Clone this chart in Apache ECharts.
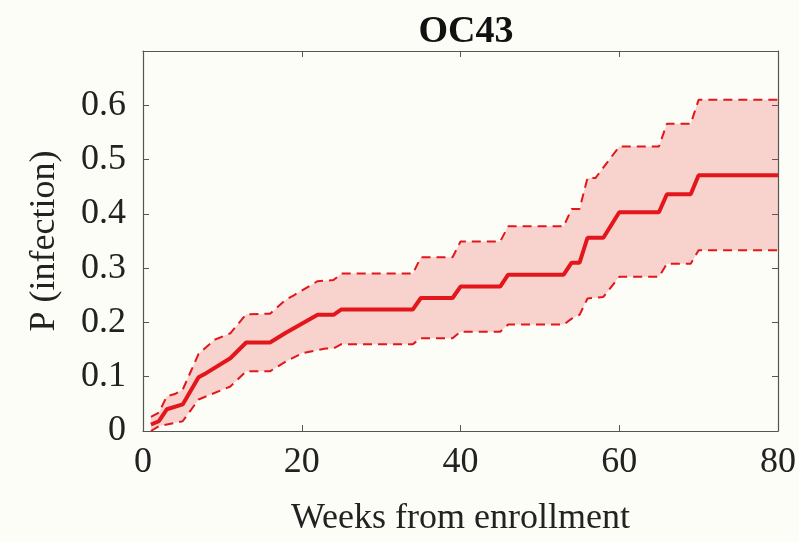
<!DOCTYPE html>
<html>
<head>
<meta charset="utf-8">
<script src="https://cdn.jsdelivr.net/npm/echarts@6/dist/echarts.min.js"></script>
<style>
  html, body { margin: 0; padding: 0; background: #fcfdf7; }
  #chart { width: 799px; height: 542px; }
</style>
</head>
<body>
<div id="chart"></div>
<script>
// [week, probability] points
const meanCurve = [[1,0.012],[2,0.018],[3,0.04],[5,0.049],[7,0.099],[8,0.107],[11,0.134],[13,0.163],[16,0.163],[18,0.181],[22,0.214],[24,0.214],[25,0.224],[34,0.224],[35,0.245],[39,0.245],[40,0.266],[45,0.266],[46,0.288],[53,0.288],[54,0.31],[55,0.31],[56,0.356],[58,0.356],[60,0.403],[65,0.403],[66,0.436],[69,0.436],[70,0.471],[80,0.471]];
const upperCurve = [[1,0.026],[2,0.034],[3,0.064],[4,0.068],[5,0.076],[7,0.142],[9,0.168],[11,0.18],[13,0.215],[16,0.216],[18,0.242],[19,0.25],[22,0.276],[24,0.278],[25,0.29],[34,0.29],[35,0.32],[39,0.32],[40,0.349],[45,0.349],[46,0.377],[53,0.377],[54,0.409],[55,0.409],[56,0.466],[57,0.466],[60,0.524],[65,0.524],[66,0.566],[69,0.566],[70,0.61],[80,0.61]];
const lowerCurve = [[1,0.0],[2,0.009],[5,0.018],[7,0.058],[11,0.082],[13,0.11],[16,0.11],[18,0.128],[20,0.143],[23,0.152],[24,0.152],[25,0.16],[34,0.16],[35,0.171],[39,0.171],[40,0.183],[45,0.183],[46,0.196],[53,0.196],[54,0.207],[55,0.214],[56,0.244],[58,0.247],[60,0.284],[65,0.284],[66,0.308],[69,0.308],[70,0.333],[80,0.333]];

const xTicks = [0, 20, 40, 60, 80];
const yTicks = [0, 0.1, 0.2, 0.3, 0.4, 0.5, 0.6];

const serif = "Liberation Serif";
const frameColor = "#555";
const red = "#e3161c";

let myChart = echarts.init(document.getElementById('chart'));

// 置信区间的填充
function renderBand(params, api) {
  const pts = [];
  upperCurve.forEach(p => pts.push(api.coord(p)));
  for (let i = lowerCurve.length - 1; i >= 0; i--) pts.push(api.coord(lowerCurve[i]));
  return {
    type: 'polygon',
    shape: { points: pts },
    style: { fill: 'rgba(235,60,60,0.22)' },
    silent: true
  };
}

const tickStyle = { show: true, inside: true, length: 6, lineStyle: { color: frameColor, width: 1 } };
const frameLine = { show: true, onZero: false, lineStyle: { color: frameColor, width: 1.2 } };

myChart.setOption({
  backgroundColor: '#fcfdf7',
  animation: false,
  title: {
    text: 'OC43',
    left: 461,
    top: 8,
    textAlign: 'center',
    textStyle: { fontFamily: serif, fontSize: 38, fontWeight: 'bold', color: '#111' }
  },
  grid: { left: 143, right: 20, top: 51, bottom: 109 },
  xAxis: [
    {
      type: 'value',
      min: 0,
      max: 80,
      interval: 20,
      name: 'Weeks from enrollment',
      nameLocation: 'middle',
      nameGap: 70,
      nameTextStyle: { fontFamily: serif, fontSize: 36, color: '#222' },
      axisLine: frameLine,
      axisTick: tickStyle,
      axisLabel: {
        fontFamily: serif, fontSize: 36, color: '#222', margin: 14,
        formatter: v => xTicks.indexOf(v) >= 0 ? String(v) : ''
      },
      splitLine: { show: false }
    },
    {
      type: 'value',
      position: 'top',
      min: 0,
      max: 80,
      interval: 20,
      axisLine: frameLine,
      axisTick: tickStyle,
      axisLabel: { show: false },
      splitLine: { show: false }
    }
  ],
  yAxis: [
    {
      type: 'value',
      min: 0,
      max: 0.7,
      interval: 0.1,
      name: 'P (infection)',
      nameLocation: 'middle',
      nameGap: 80,
      nameTextStyle: { fontFamily: serif, fontSize: 36, color: '#222' },
      axisLine: frameLine,
      axisTick: tickStyle,
      axisLabel: {
        fontFamily: serif, fontSize: 36, color: '#222', margin: 17,
        showMaxLabel: false,
        formatter: v => {
          const hit = yTicks.find(t => Math.abs(t - v) < 1e-6);
          if (hit === undefined) return '';
          return hit === 0 ? '0' : hit.toFixed(1);
        }
      },
      splitLine: { show: false }
    },
    {
      type: 'value',
      position: 'right',
      min: 0,
      max: 0.7,
      interval: 0.1,
      axisLine: frameLine,
      axisTick: tickStyle,
      axisLabel: { show: false },
      splitLine: { show: false }
    }
  ],
  series: [
    {
      name: 'band',
      type: 'custom',
      xAxisIndex: 0,
      yAxisIndex: 0,
      renderItem: renderBand,
      data: [[0, 0]],
      z: 1
    },
    {
      name: 'upper',
      type: 'line',
      data: upperCurve,
      showSymbol: false,
      lineStyle: { color: red, width: 2, type: [9, 6] },
      z: 2
    },
    {
      name: 'lower',
      type: 'line',
      data: lowerCurve,
      showSymbol: false,
      lineStyle: { color: red, width: 2, type: [9, 6] },
      z: 2
    },
    {
      name: 'mean',
      type: 'line',
      data: meanCurve,
      showSymbol: false,
      lineStyle: { color: red, width: 4 },
      z: 3
    }
  ]
});
</script>
</body>
</html>
